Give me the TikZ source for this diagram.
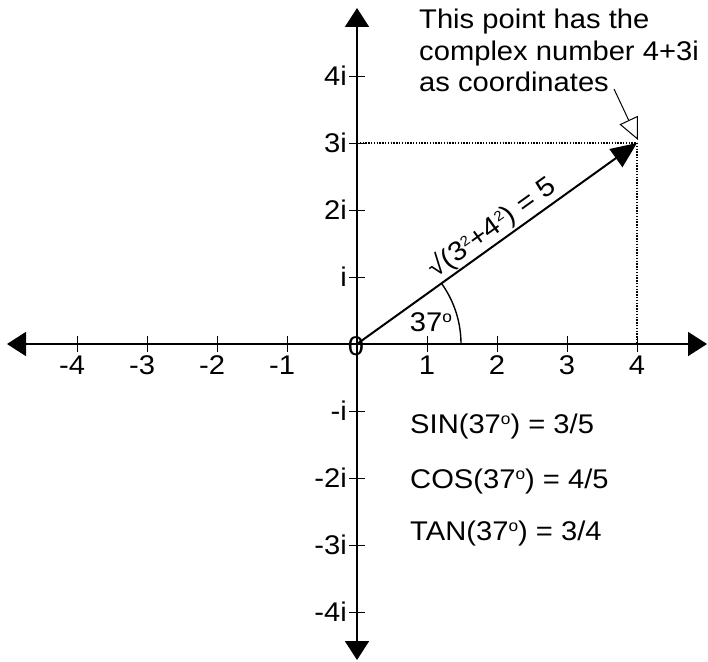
\documentclass[tikz,border=0pt]{standalone}
\usepackage{fontspec}
\setmainfont{Liberation Sans}[FakeStretch=1.08]
\usetikzlibrary{arrows.meta}
\newcommand{\degsup}{\raisebox{9pt}{\fontsize{16}{16}\selectfont o}}
\newcommand{\twosup}{\raisebox{8.5pt}{\fontsize{14}{14}\selectfont 2}}
\begin{document}
\begin{tikzpicture}[x=1pt,y=-1pt,
  every node/.style={font=\fontsize{27}{31.5}\selectfont, inner sep=0pt},
  axis/.style={line width=1.8pt, {Triangle[length=19pt,width=24pt]}-{Triangle[length=19pt,width=24pt]}},
  tick/.style={line width=1pt},
  vec/.style={line width=2pt, -{Triangle[length=26pt,width=22pt]}},
  guide/.style={line width=1.1pt, dash pattern=on 1.4pt off 1.4pt},
  note/.style={line width=1pt, -{Triangle[open,length=22pt,width=20pt,fill=white]}},
  anglearc/.style={line width=1.4pt}]
\useasboundingbox (0,0) rectangle (708,661);
% key points
\coordinate (O) at (357,344);
\coordinate (P) at (637,143);
\coordinate (L) at (7,344);
\coordinate (R) at (707,344);
\coordinate (T) at (357,8);
\coordinate (B) at (357,660);
\coordinate (Y3) at (357,143);
\coordinate (X4) at (637,344);
% axes
\draw[axis] (L) -- (R);
\draw[axis] (T) -- (B);
% ticks
\foreach \k in {-4,...,-1,1,2,3,4} {
  \draw[tick] (357+70*\k,336) -- (357+70*\k,352);
  \draw[tick] (349,344-67*\k) -- (365,344-67*\k);
}
% x tick labels
\node[anchor=base] (xm4) at (77,374) {\llap{-}4};
\node[anchor=base] (xm3) at (147,374) {\llap{-}3};
\node[anchor=base] (xm2) at (217,374) {\llap{-}2};
\node[anchor=base] (xm1) at (287,374) {\llap{-}1};
\node[anchor=base] (xp1) at (427,374) {1};
\node[anchor=base] (xp2) at (497,374) {2};
\node[anchor=base] (xp3) at (567,374) {3};
\node[anchor=base] (xp4) at (637,374) {4};
\node[anchor=base] (zero) at (356,355) {0};
% y tick labels
\node[anchor=base east] (yp4) at (347,85) {4i};
\node[anchor=base east] (yp3) at (347,152) {3i};
\node[anchor=base east] (yp2) at (347,219) {2i};
\node[anchor=base east] (yp1) at (347,286) {i};
\node[anchor=base east] (ym1) at (347,420) {-i};
\node[anchor=base east] (ym2) at (347,487) {-2i};
\node[anchor=base east] (ym3) at (347,554) {-3i};
\node[anchor=base east] (ym4) at (347,621) {-4i};
% guides
\draw[guide] (Y3) -- (P);
\draw[guide] (P) -- (X4);
% vector
\draw[vec] (O) -- (P);
% angle
\draw[anglearc] (O) ++(104,0) arc[start angle=0, end angle=-35.6, radius=104];
\node (ang) at (431,322) {37\degsup};
\node[rotate=35.6] (len) at (492,228) {√(3\twosup+4\twosup) = 5};
% annotation
\node[anchor=base west] (n1) at (419,29) {This point has the};
\node[anchor=base west] (n2) at (419,60) {complex number 4+3i};
\node[anchor=base west] (n3) at (419,91) {as coordinates};
\coordinate (A) at (614,89);
\draw[note] (A) -- ([shift={(1,-3)}]P);
% trig values
\node[anchor=base west] (sin) at (410,433) {SIN(37\degsup) = 3/5};
\node[anchor=base west] (cos) at (410,488) {COS(37\degsup) = 4/5};
\node[anchor=base west] (tan) at (410,540) {TAN(37\degsup) = 3/4};
\end{tikzpicture}
\end{document}
